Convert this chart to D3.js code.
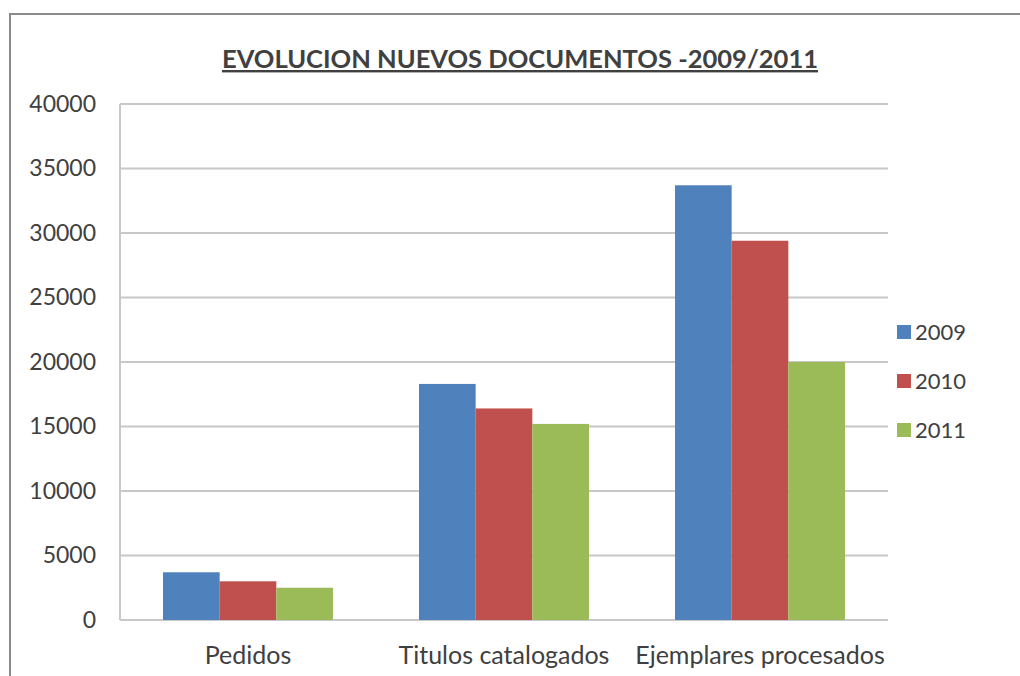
<!DOCTYPE html>
<head>
<meta charset="utf-8">
<script src="https://cdn.jsdelivr.net/npm/d3@7"></script>
<style>
  body { margin: 0; background: #fff; }
  text { font-family: Lato, "Open Sans", sans-serif; fill: #404040; }
</style>
</head>
<body>
<svg></svg>
<script>
var categories = ['Pedidos', 'Titulos catalogados', 'Ejemplares procesados']
var years = ['2009', '2010', '2011']
var v2009 = [3700, 18300, 33700]
var v2010 = [3000, 16400, 29400]
var v2011 = [2500, 15200, 20000]
var yTicks = [0, 5000, 10000, 15000, 20000, 25000, 30000, 35000, 40000]
var colors = ['#4f81bd', '#c0504d', '#9bbb59']

var W = 1020, H = 676
var svg = d3.select('svg').attr('width', W).attr('height', H)

// chart frame (cropped at right/bottom)
svg.append('path')
  .attr('d', 'M10,' + H + 'V14H' + W)
  .attr('fill', 'none').attr('stroke', '#8a8a8a').attr('stroke-width', 2)

var series = [v2009, v2010, v2011]
var rows = categories.map(function (c, i) {
  return { cat: c, vals: series.map(function (s) { return s[i] }) }
})

var x = d3.scaleBand().domain(categories).range([120, 888])
  .paddingInner(0.336).paddingOuter(0.168)
var x1 = d3.scaleBand().domain(years).range([0, x.bandwidth()])
var y = d3.scaleLinear().domain([0, 40000]).range([620, 104])

// gridlines
svg.append('g').selectAll('line').data(yTicks).enter().append('line')
  .attr('x1', 120).attr('x2', 888)
  .attr('y1', function (d) { return y(d) }).attr('y2', function (d) { return y(d) })
  .attr('stroke', '#c8c8c8').attr('stroke-width', 2)

svg.append('line').attr('x1', 120).attr('x2', 120).attr('y1', y(40000)).attr('y2', y(0))
  .attr('stroke', '#c8c8c8').attr('stroke-width', 2)

var yAxis = d3.axisLeft(y).tickValues(yTicks).tickSize(0).tickPadding(24).tickFormat(d3.format('d'))
var ga = svg.append('g').attr('transform', 'translate(120,0)').call(yAxis)
ga.select('.domain').remove()
ga.selectAll('text').style('font-size', '23px').attr('fill', '#404040')

// bars
var groups = svg.append('g').selectAll('g').data(rows).enter().append('g')
  .attr('transform', function (d) { return 'translate(' + x(d.cat) + ',0)' })
groups.selectAll('rect').data(function (d) { return d.vals }).enter().append('rect')
  .attr('x', function (d, i) { return x1(years[i]) })
  .attr('width', x1.bandwidth())
  .attr('y', function (d) { return y(d) })
  .attr('height', function (d) { return y(0) - y(d) })
  .attr('fill', function (d, i) { return colors[i] })

// category labels
svg.append('g').selectAll('text').data(categories).enter().append('text')
  .attr('x', function (d) { return x(d) + x.bandwidth() / 2 })
  .attr('y', 664)
  .attr('text-anchor', 'middle')
  .style('font-size', '25px')
  .text(function (d) { return d })

// title
svg.append('text')
  .attr('x', 520).attr('y', 68).attr('text-anchor', 'middle')
  .style('font-size', '24px').style('font-weight', 'bold')
  .style('text-decoration', 'underline')
  .attr('fill', '#262626')
  .attr('textLength', 596).attr('lengthAdjust', 'spacingAndGlyphs')
  .text('EVOLUCION NUEVOS DOCUMENTOS -2009/2011')

// legend
var lg = svg.append('g').selectAll('g').data(years).enter().append('g')
  .attr('transform', function (d, i) { return 'translate(897,' + (332 + i * 49) + ')' })
lg.append('rect').attr('x', 0).attr('y', -7).attr('width', 14).attr('height', 14)
  .attr('fill', function (d, i) { return colors[i] })
lg.append('text').attr('x', 18).attr('dy', '0.35em').style('font-size', '22px')
  .text(function (d) { return d })
</script>
</body>
